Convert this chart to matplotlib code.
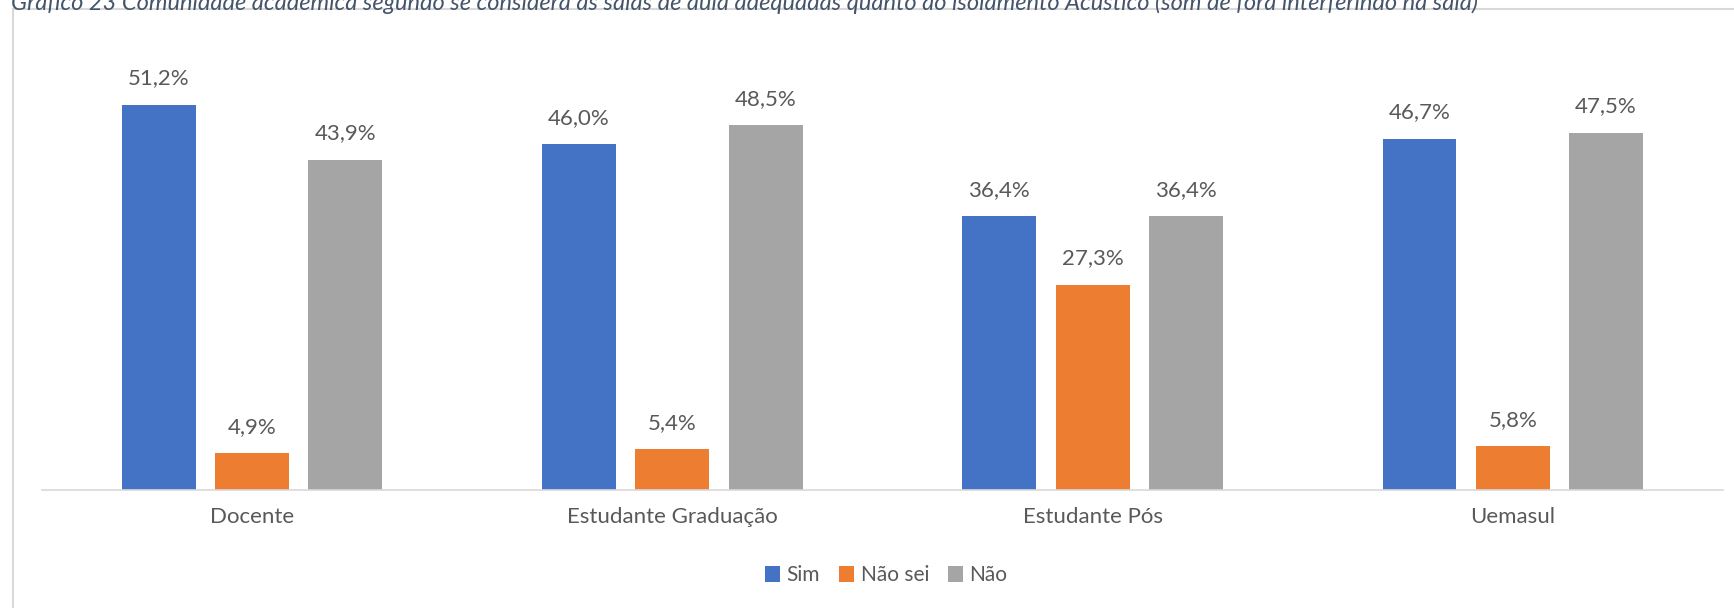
import numpy as np
import matplotlib.pyplot as plt
from matplotlib.patches import Rectangle

categories = ["Docente", "Estudante Graduação", "Estudante Pós", "Uemasul"]
sim = [51.2, 46.0, 36.4, 46.7]
nao_sei = [4.9, 5.4, 27.3, 5.8]
nao = [43.9, 48.5, 36.4, 47.5]
series_names = ["Sim", "Não sei", "Não"]
colors = ["#4472c4", "#ed7d31", "#a5a5a5"]

title = ("Gráfico 23 Comunidade acadêmica segundo se considera as salas de aula adequadas "
         "quanto ao isolamento Acústico (som de fora interferindo na sala)")

plt.rcParams['font.family'] = ['Lato', 'DejaVu Sans']
text_color = "#595959"

fig = plt.figure(figsize=(17.34, 6.08), dpi=100)
ax = fig.add_axes([0.0242, 0.194, 0.9694, 0.742])

x = np.arange(len(categories))
width = 0.176
step = 0.222
for i, (vals, name, col) in enumerate(zip([sim, nao_sei, nao], series_names, colors)):
    pos = x + (i - 1) * step
    bars = ax.bar(pos, vals, width, color=col, label=name)
    for b, v in zip(bars, vals):
        ax.text(b.get_x() + b.get_width() / 2, v + 2.2, f"{v:.1f}%".replace(".", ","),
                ha="center", va="bottom", fontsize=16, color=text_color)

ax.set_xlim(-0.5, len(categories) - 0.5)
ax.set_ylim(0, 60)
ax.set_xticks(x)
ax.set_xticklabels(categories, fontsize=16, color=text_color)
ax.tick_params(axis="x", length=0, pad=12)
ax.set_yticks([])
for s in ["top", "right", "left"]:
    ax.spines[s].set_visible(False)
ax.spines["bottom"].set_color("#d9d9d9")
ax.spines["bottom"].set_linewidth(1.2)

fig.legend(loc="center", bbox_to_anchor=(0.511, 0.054), ncol=3, frameon=False,
           fontsize=15, handlelength=0.75, handleheight=0.75, handletextpad=0.3,
           columnspacing=0.9, labelcolor=text_color)

# chart frame (extends beyond the crop)
fig.patches.append(Rectangle((13 / 1734, -0.1), 1.2, 1.1 - 9 / 608,
                             transform=fig.transFigure, fill=False,
                             edgecolor="#d9d9d9", linewidth=1.5))

# caption, cut off at the top of the image
fig.text(11 / 1734, 1 - 10 / 608, title, fontsize=17, style="italic",
         color="#44546a", ha="left", va="baseline")

fig.savefig("out.png", dpi=100)
